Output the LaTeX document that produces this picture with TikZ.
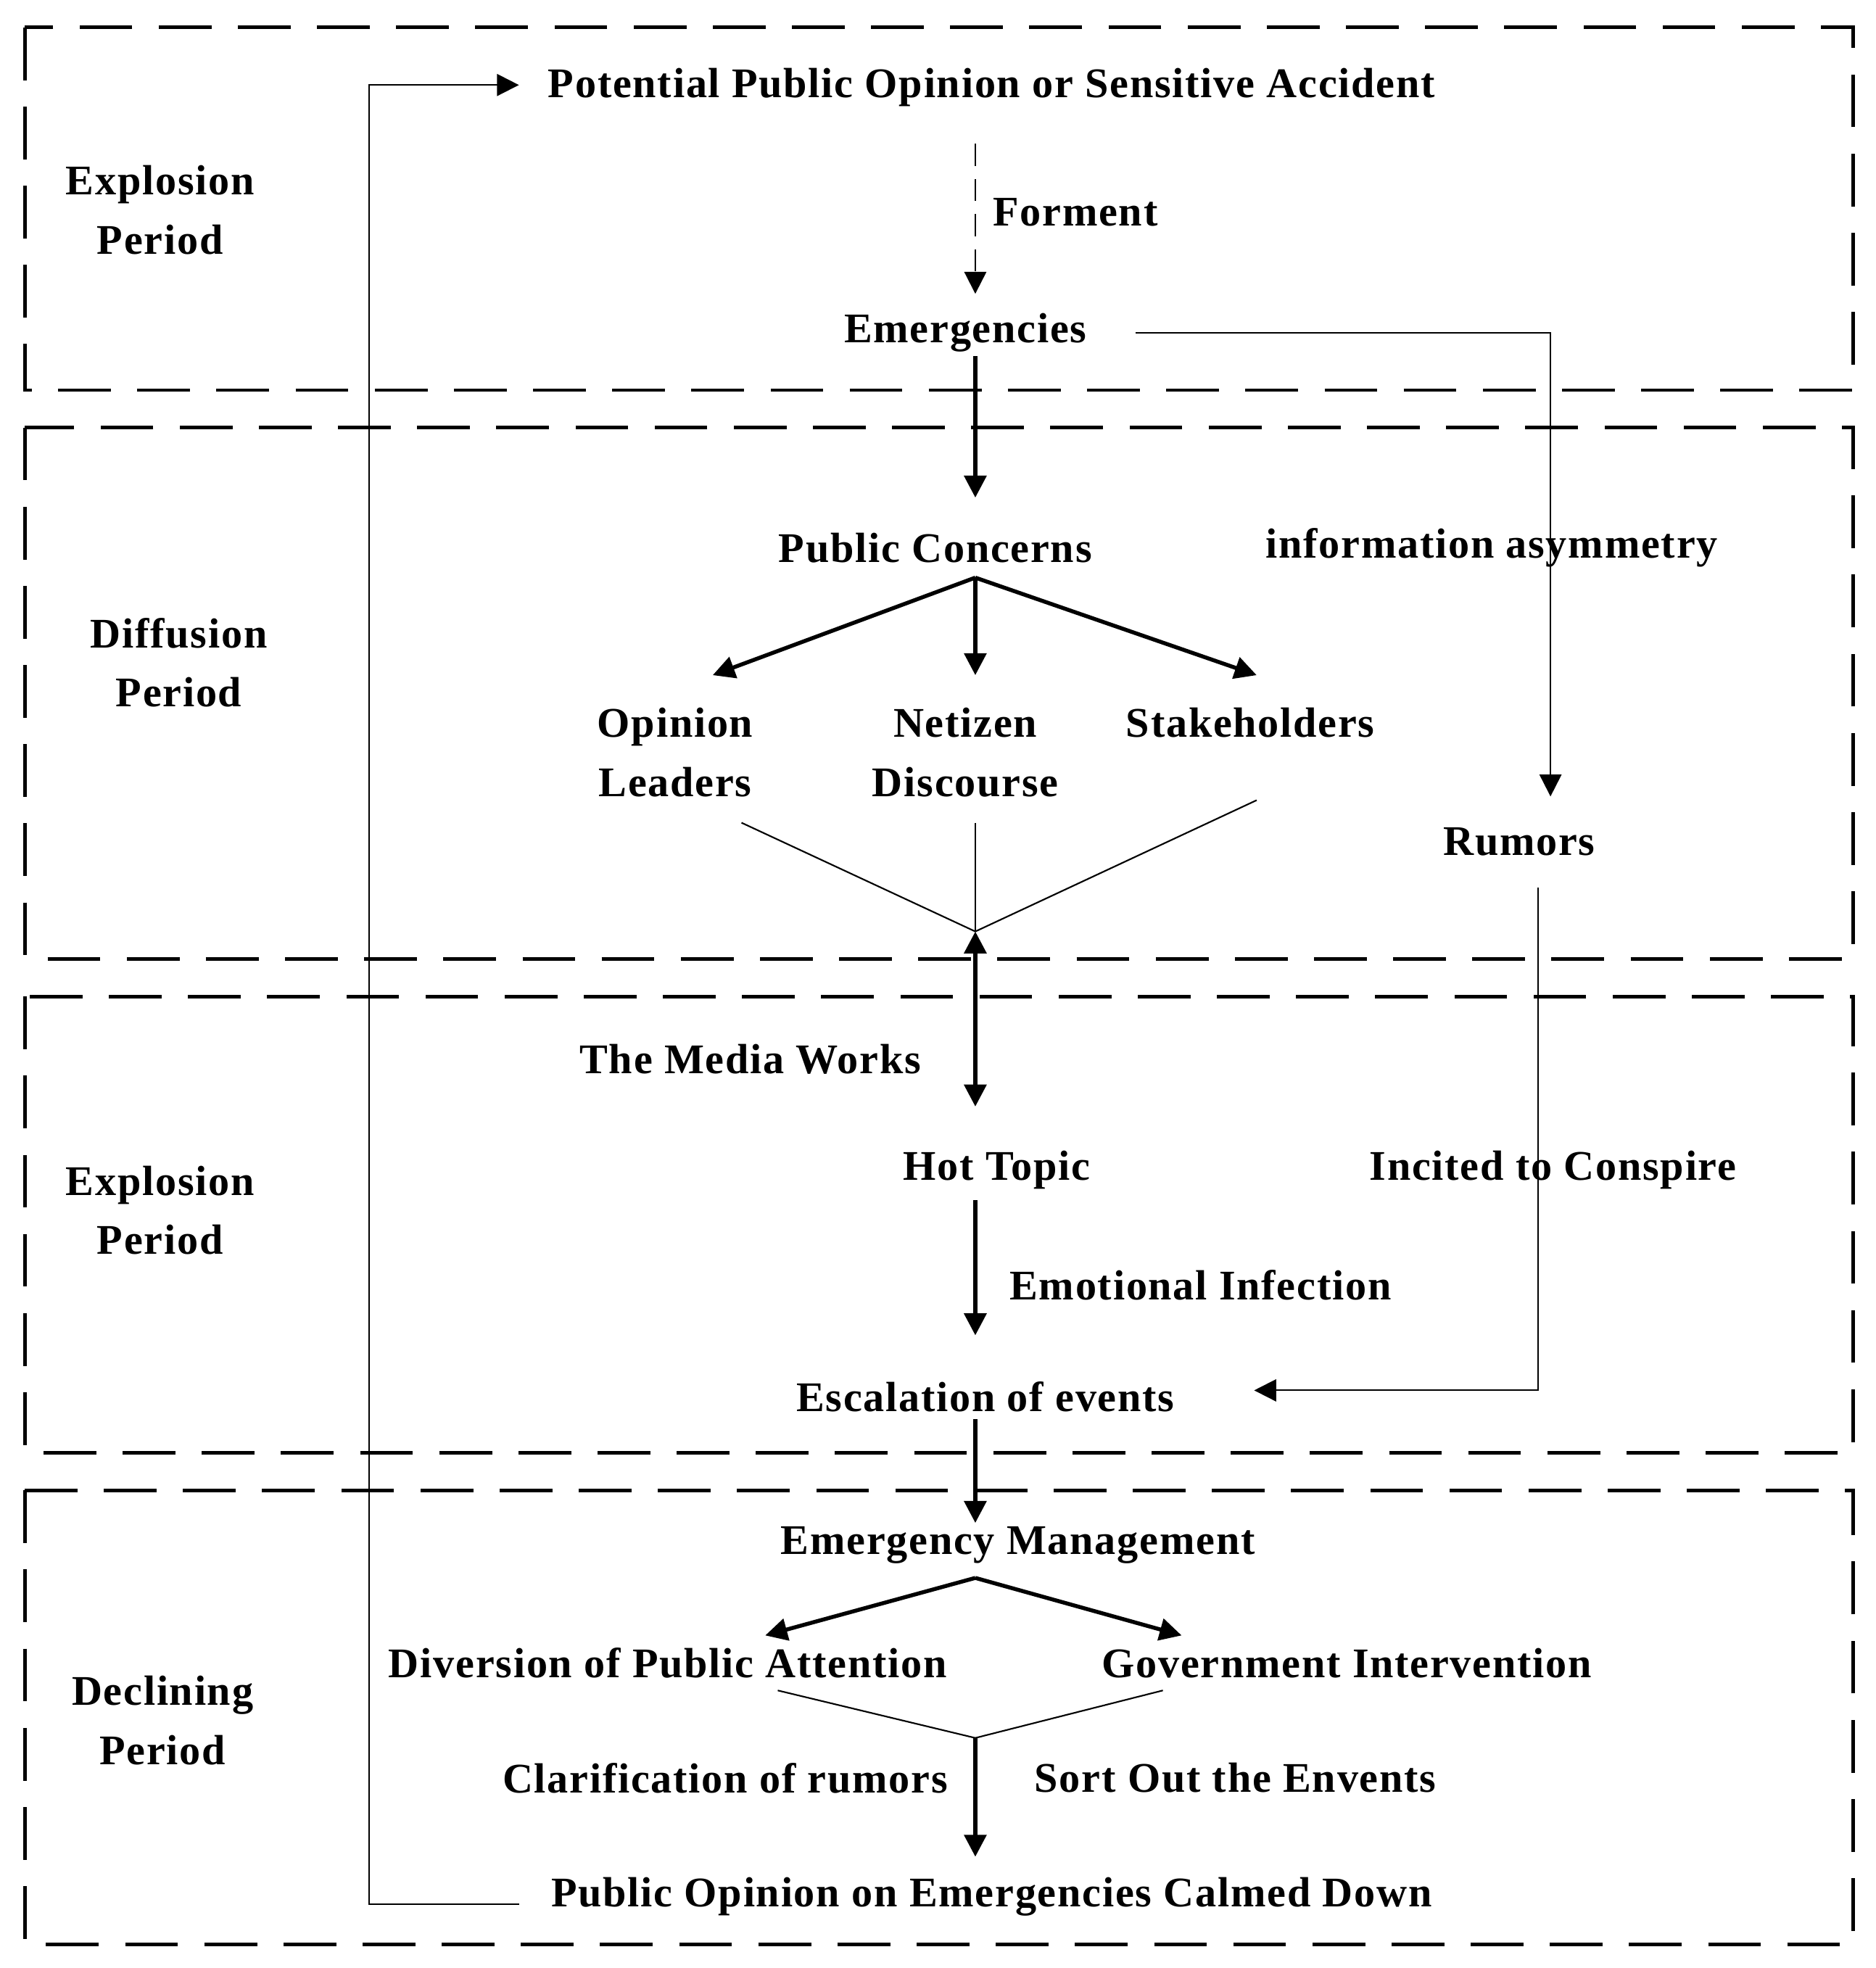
\documentclass[tikz,border=0pt]{standalone}
\usepackage{fontspec}
\setmainfont{Liberation Serif}[LetterSpace=3]
\usetikzlibrary{arrows.meta}
\begin{document}
\begin{tikzpicture}[x=0.01cm,y=-0.01cm,
  t/.style={font=\fontsize{9.6}{11.5}\selectfont\bfseries,align=center,inner sep=1pt},
  box/.style={draw,line width=0.8pt,dash pattern=on 12pt off 6pt},
  thk/.style={line width=0.9pt,-{Triangle[length=5pt,width=5pt]}},
  thn/.style={line width=0.35pt}]
\useasboundingbox (0,0) rectangle (1500,1574);
\draw[box] (20,22) rectangle (1482,312);
\draw[box] (20,342) rectangle (1482,767);
\draw[box] (20,797) rectangle (1482,1162);
\draw[box] (20,1192) rectangle (1482,1555);
\node[t] (l1) at (128,168) {Explosion\\[2pt]Period};
\node[t] (l2) at (143,530) {Diffusion\\[2pt]Period};
\node[t] (l3) at (128,968) {Explosion\\[2pt]Period};
\node[t] (l4) at (130,1376) {Declining\\[2pt]Period};
\node[t] (pot) at (793,70) {Potential Public Opinion or Sensitive Accident};
\node[t] (forment) at (860,170) {Forment};
\node[t] (emerg) at (772,266) {Emergencies};
\node[t] (pubc) at (748,438) {Public Concerns};
\node[t] (info) at (1193,438) {information asymmetry};
\node[t] (opin) at (540,602) {Opinion\\[2pt]Leaders};
\node[t] (neti) at (772,602) {Netizen\\[2pt]Discourse};
\node[t] (stake) at (1000,578) {Stakeholders};
\node[t] (rum) at (1215,673) {Rumors};
\node[t] (media) at (600,847) {The Media Works};
\node[t] (hot) at (797,936) {Hot Topic};
\node[t] (inc) at (1242,936) {Incited to Conspire};
\node[t] (emo) at (960,1028) {Emotional Infection};
\node[t] (esc) at (788,1117) {Escalation of events};
\node[t] (mgmt) at (814,1236) {Emergency Management};
\node[t] (div) at (534,1330) {Diversion of Public Attention};
\node[t] (gov) at (1077,1330) {Government Intervention};
\node[t] (clar) at (580,1422) {Clarification of rumors};
\node[t] (sort) at (988,1422) {Sort Out the Envents};
\node[t] (calm) at (793,1517) {Public Opinion on Emergencies Calmed Down};
\coordinate (j1) at (780,745);
\coordinate (j2) at (780,1390);
\coordinate (s) at (780,462);
\coordinate (m) at (780,1262);
\coordinate (fb1) at (415,1523);
\coordinate (fb2) at (415,68);
\coordinate (e1) at (908,266);
\draw[thn,dash pattern=on 5pt off 3pt,-{Triangle[length=5pt,width=5pt]}] (780,115) -- (780,235);
\draw[thk] (780,285) -- (780,398);
\draw[thn,-{Triangle[length=5pt,width=5pt]}] (e1) -- (1240,266) -- (1240,637);
\draw[thk] (s) -- (570,540);
\draw[thk] (s) -- (780,540);
\draw[thk] (s) -- (1005,540);
\draw[thn] (593,658) -- (j1);
\draw[thn] (780,658) -- (j1);
\draw[thn] (1005,640) -- (j1);
\draw[line width=0.9pt,{Triangle[length=5pt,width=5pt]}-{Triangle[length=5pt,width=5pt]}] (j1) -- (780,885);
\draw[thn,-{Triangle[length=5pt,width=5pt]}] (1230,710) -- (1230,1112) -- (1003,1112);
\draw[thk] (780,960) -- (780,1068);
\draw[thk] (780,1135) -- (780,1218);
\draw[thk] (m) -- (612,1308);
\draw[thk] (m) -- (945,1308);
\draw[thn] (622,1352) -- (j2);
\draw[thn] (930,1352) -- (j2);
\draw[thk] (j2) -- (780,1485);
\draw[thn,-{Triangle[length=5pt,width=5pt]}] (fb1) -- (295,1523) -- (295,68) -- (fb2);
\end{tikzpicture}
\end{document}
